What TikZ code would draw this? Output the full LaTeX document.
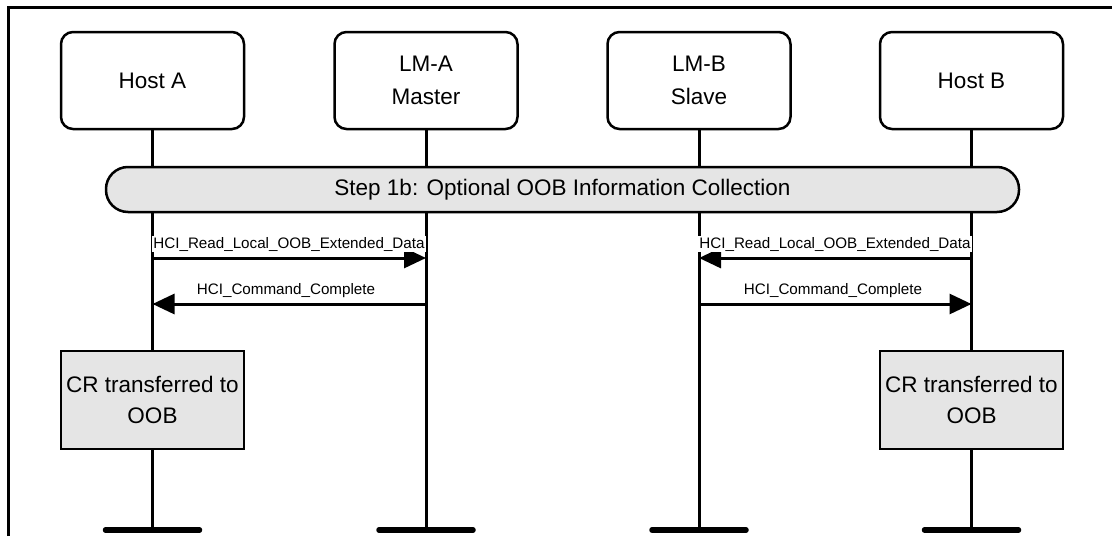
\documentclass[tikz,border=0pt]{standalone}
\usepackage{fontspec}
\setmainfont{Liberation Sans}
\usetikzlibrary{arrows.meta}
\definecolor{boxgray}{HTML}{E5E5E5}
\tikzset{
  entity/.style={draw, line width=2.5pt, rounded corners=12pt, minimum width=183pt, minimum height=97pt, align=center, inner sep=0pt, font=\fontsize{22.5}{33}\selectfont},
  crbox/.style={draw, line width=2pt, fill=boxgray, minimum width=183pt, minimum height=98pt, align=center, inner sep=0pt, font=\fontsize{22.5}{31}\selectfont},
  stepbox/.style={draw, line width=2.5pt, fill=boxgray, rounded corners=22pt, minimum width=913pt, minimum height=45pt, inner sep=0pt, font=\fontsize{22.5}{27}\selectfont},
  life/.style={line width=3pt},
  endbar/.style={line width=5.5pt, line cap=round},
  msg/.style={line width=3pt, -{Triangle[length=22pt,width=20pt]}},
  msglabel/.style={font=\fontsize{15.2}{18}\selectfont, inner sep=1pt, fill=white},
}
\begin{document}
\begin{tikzpicture}[x=1pt,y=-1pt]
\useasboundingbox (0,0) rectangle (1112,536);
\draw[line width=3pt] (8,536) -- (8,7) -- (1113,7);
% entities
\node[entity] (hA) at (152.5,80.5) {Host A};
\node[entity] (lA) at (426,80.5) {LM-A\\Master};
\node[entity] (lB) at (699,80.5) {LM-B\\Slave};
\node[entity] (hB) at (971.5,80.5) {Host B};
% lifeline ends
\coordinate (eA) at (152.5,530);
\coordinate (eLA) at (426,530);
\coordinate (eLB) at (699,530);
\coordinate (eB) at (971.5,530);
\draw[life] (hA.south) -- (eA);
\draw[life] (lA.south) -- (eLA);
\draw[life] (lB.south) -- (eLB);
\draw[life] (hB.south) -- (eB);
\draw[endbar] ([xshift=-47pt]eA) -- ([xshift=47pt]eA);
\draw[endbar] ([xshift=-47pt]eLA) -- ([xshift=47pt]eLA);
\draw[endbar] ([xshift=-47pt]eLB) -- ([xshift=47pt]eLB);
\draw[endbar] ([xshift=-47pt]eB) -- ([xshift=47pt]eB);
% step
\node[stepbox] (step) at (562.5,189.5) {Step 1b: Optional OOB Information Collection};
% messages
\coordinate (m1a) at (152.5,258);
\coordinate (m1b) at (426,258);
\coordinate (m2a) at (152.5,304);
\coordinate (m2b) at (426,304);
\coordinate (m3a) at (699,258);
\coordinate (m3b) at (971.5,258);
\coordinate (m4a) at (699,304);
\coordinate (m4b) at (971.5,304);
\draw[msg] (m1a) -- (m1b);
\node[msglabel] (t1) at (289,244) {HCI\_Read\_Local\_OOB\_Extended\_Data};
\draw[msg] (m2b) -- (m2a);
\node[msglabel] (t2) at (286,291) {HCI\_Command\_Complete};
\draw[msg] (m3b) -- (m3a);
\node[msglabel] (t3) at (835,244) {HCI\_Read\_Local\_OOB\_Extended\_Data};
\draw[msg] (m4a) -- (m4b);
\node[msglabel] (t4) at (833,291) {HCI\_Command\_Complete};
% CR boxes
\node[crbox] (crA) at (152.5,400) {CR transferred to\\OOB};
\node[crbox] (crB) at (971.5,400) {CR transferred to\\OOB};
\end{tikzpicture}
\end{document}
